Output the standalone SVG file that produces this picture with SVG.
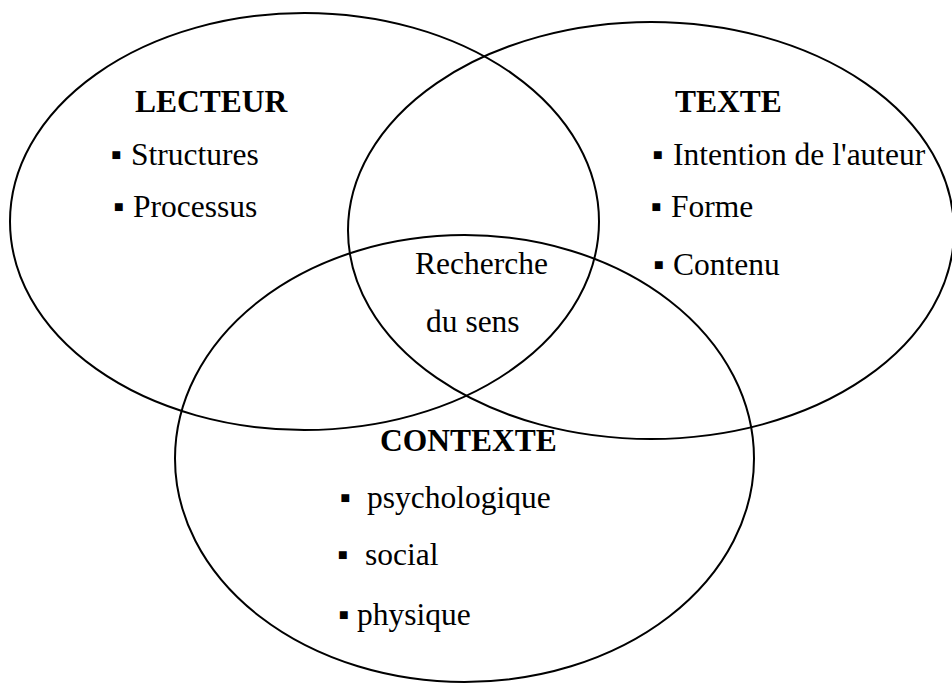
<svg xmlns="http://www.w3.org/2000/svg" width="952" height="684" viewBox="0 0 952 684">
<style>
.circ{fill:none;stroke:#000;stroke-width:2}
text{font-family:"Liberation Serif","Times New Roman",serif;font-size:31.5px;fill:#000}
.h{font-weight:bold}
.b{text-anchor:middle}
</style>
<rect x="0" y="0" width="952" height="684" fill="#fff"/>
<g id="lecteur">
<ellipse class="circ" cx="304.5" cy="221.5" rx="294.5" ry="208.5"/>
<text class="h" x="135" y="112">LECTEUR</text>
<text><tspan class="b" x="116" y="165">▪</tspan><tspan x="131" y="165">Structures</tspan></text>
<text><tspan class="b" x="118.5" y="217">▪</tspan><tspan x="133" y="217">Processus</tspan></text>
</g>
<g id="texte">
<ellipse class="circ" cx="651" cy="230.5" rx="303" ry="208.5"/>
<text class="h" x="675" y="112">TEXTE</text>
<text><tspan class="b" x="657.5" y="165">▪</tspan><tspan x="673" y="165">Intention de l'auteur</tspan></text>
<text><tspan class="b" x="656" y="217">▪</tspan><tspan x="671" y="217">Forme</tspan></text>
<text><tspan class="b" x="658.5" y="275">▪</tspan><tspan x="673" y="275">Contenu</tspan></text>
</g>
<g id="contexte">
<ellipse class="circ" cx="464.5" cy="458.5" rx="289.5" ry="223.5"/>
<text class="h" x="380" y="451">CONTEXTE</text>
<text><tspan class="b" x="345" y="508">▪</tspan><tspan x="367" y="508">psychologique</tspan></text>
<text><tspan class="b" x="342.5" y="565">▪</tspan><tspan x="365" y="565">social</tspan></text>
<text><tspan class="b" x="343.5" y="625">▪</tspan><tspan x="357" y="625">physique</tspan></text>
</g>
<g id="sens">
<text x="415" y="274">Recherche</text>
<text x="426" y="332">du sens</text>
</g>
</svg>
